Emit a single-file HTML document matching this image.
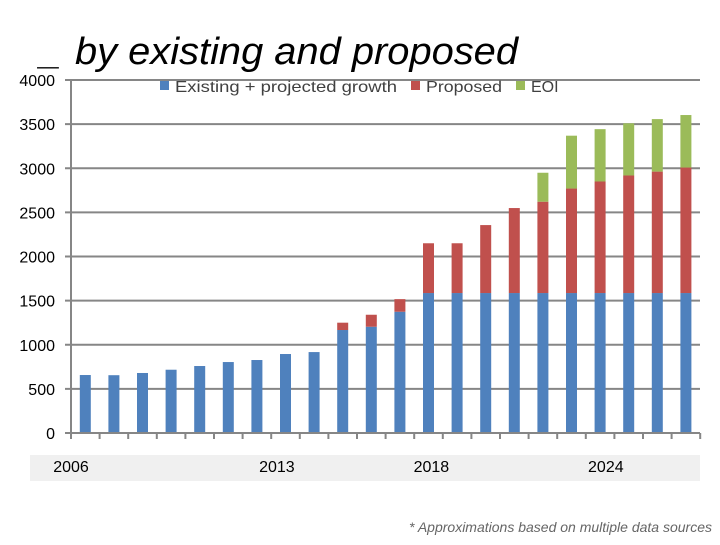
<!DOCTYPE html>
<html><head><meta charset="utf-8"><style>
body{margin:0;background:#fff;}
svg text{font-family:"Liberation Sans",sans-serif;}
</style></head><body>
<svg width="720" height="540" viewBox="0 0 720 540">
<text x="40" y="64" font-size="38" font-style="italic" fill="#000">_</text>
<text x="75" y="64" font-size="38" font-style="italic" fill="#000" textLength="443" lengthAdjust="spacingAndGlyphs">by existing and proposed</text>
<rect x="30" y="455" width="670" height="26" fill="#f0f0f0"/>
<g id="grid"></g>
<g id="bars"></g>
<g id="axes"></g>
<g font-size="16" fill="#404040">
<rect x="160" y="81" width="9" height="9" fill="#4f81bd"/>
<text x="175" y="92" fill="#404040" textLength="222" lengthAdjust="spacingAndGlyphs">Existing + projected growth</text>
<rect x="411" y="81" width="9" height="9" fill="#c0504d"/>
<text x="426" y="92" fill="#404040" textLength="76" lengthAdjust="spacingAndGlyphs">Proposed</text>
<rect x="516" y="81" width="9" height="9" fill="#9bbb59"/>
<text x="531" y="92" fill="#404040">EOI</text>
</g>
<text x="712" y="532" font-size="14" font-style="italic" fill="#666" text-anchor="end">* Approximations based on multiple data sources</text>
</svg>
<script>
const existing=[657,655,680,717,759,804,827,895,917,1167,1204,1374,1586,1586,1586,1586,1586,1586,1586,1586,1586,1586];
const proposed=[0,0,0,0,0,0,0,0,0,83,136,143,564,564,770,963,1035,1184,1264,1332,1376,1422];
const eoi=[0,0,0,0,0,0,0,0,0,0,0,0,0,0,0,0,328,599,593,591,595,595];
const yTicks=[0,500,1000,1500,2000,2500,3000,3500,4000];
const xLabels=["2006","2013","2018","2024"];
const xLabelIdx=[-0.5,6.7,12.1,18.2];
const NS="http://www.w3.org/2000/svg";
const X0=71,CW=28.6,BW=11,Y0=433,Ymax=4000,PH=353;
function y(v){return Y0-v/Ymax*PH;}
function xc(i){return X0+CW*(i+0.5);}
function mk(tag,attrs,parent){const e=document.createElementNS(NS,tag);for(const k in attrs)e.setAttribute(k,attrs[k]);parent.appendChild(e);return e;}
const grid=document.getElementById('grid'),bars=document.getElementById('bars'),axes=document.getElementById('axes');
yTicks.forEach(t=>{
 if(t>0){const l=mk('line',{x1:X0-6,x2:700,y1:y(t),y2:y(t),stroke:'#868686','stroke-width':2},grid);
 
 }
 const tx=mk('text',{x:55,y:y(t)+6,'font-size':16,fill:'#000','text-anchor':'end'},axes);
 tx.textContent=t;
 
 
});
const ya=mk('line',{x1:X0,x2:X0,y1:80,y2:Y0,stroke:'#868686','stroke-width':2},axes);


const xa=mk('line',{x1:X0-6,x2:700,y1:Y0,y2:Y0,stroke:'#868686','stroke-width':2},axes);


for(let i=0;i<=existing.length;i++){
 const tk=mk('line',{x1:X0+CW*i,x2:X0+CW*i,y1:Y0,y2:Y0+6,stroke:'#868686','stroke-width':2},axes);
 
 
}
xLabels.forEach((s,j)=>{
 const tx=mk('text',{x:xc(xLabelIdx[j]),y:472,'font-size':16,fill:'#000','text-anchor':'middle'},axes);
 tx.textContent=s;
 
 
});
existing.forEach((v,i)=>{
 const segs=[[v,'#4f81bd','existing'],[proposed[i],'#c0504d','proposed'],[eoi[i],'#9bbb59','eoi']];
 let base=0;
 segs.forEach(([val,col,nm])=>{
  if(val<=0)return;
  const r=mk('rect',{x:xc(i)-BW/2,y:y(base+val),width:BW,height:y(base)-y(base+val),fill:col},bars);
  
  
  base+=val;
 });
});
</script>
</body></html>
